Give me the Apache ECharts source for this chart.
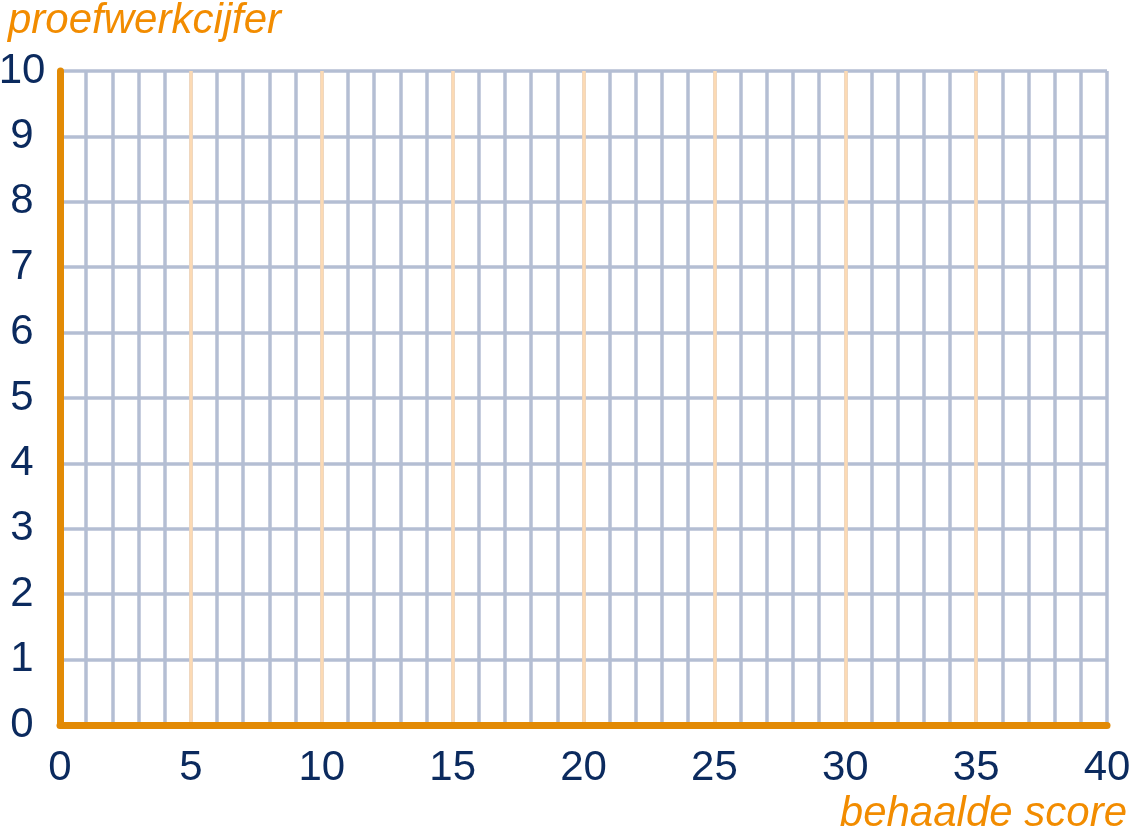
<!DOCTYPE html>
<html>
<head>
<meta charset="utf-8">
<script src="https://cdn.jsdelivr.net/npm/echarts@6/dist/echarts.min.js"></script>
<style>
html,body{margin:0;padding:0;background:#fff;}
#chart{width:1129px;height:835px;}
</style>
</head>
<body>
<div id="chart"></div>
<script>
// Axis ranges and ticks
const xMin = 0, xMax = 40, xMinorStep = 1, xMajorStep = 5;
const yMin = 0, yMax = 10, yStep = 1;
const xTickLabels = [0, 5, 10, 15, 20, 25, 30, 35, 40];
const yTickLabels = [0, 1, 2, 3, 4, 5, 6, 7, 8, 9, 10];
const xAxisName = 'behaalde score';
const yAxisName = 'proefwerkcijfer';
const seriesPoints = []; // empty grid: no plotted data

const ORANGE = '#E28A05';
const NAME_ORANGE = '#F28C00';
const GRID_GRAY = '#B4BED3';
const PEACH = '#FCDAB4';
const NAVY = '#0B2A5E';
const FONT = 'Liberation Sans, Arial, sans-serif';

const chart = echarts.init(document.getElementById('chart'));
chart.setOption({
  animation: false,
  backgroundColor: '#ffffff',
  grid: { left: 60, right: 22, top: 71, bottom: 110, containLabel: false, outerBoundsMode: 'none' },
  xAxis: [
    {
      type: 'value', min: xMin, max: xMax, interval: xMinorStep, z: 2,
      axisLine: { show: false }, axisTick: { show: false }, axisLabel: { show: false },
      splitLine: { show: true, lineStyle: { color: GRID_GRAY, width: 3.5 } }
    },
    {
      type: 'value', min: xMin, max: xMax, interval: xMajorStep, z: 3, position: 'bottom',
      axisLine: { show: true, onZero: false, lineStyle: { color: ORANGE, width: 7, cap: 'round' } },
      axisTick: { show: false },
      axisLabel: {
        show: true, margin: 22, color: NAVY, fontSize: 42, fontFamily: FONT,
        formatter: v => (xTickLabels.indexOf(v) >= 0 ? String(v) : '')
      },
      splitLine: { show: true, showMinLine: false, showMaxLine: false, lineStyle: { color: PEACH, width: 3.5 } }
    }
  ],
  yAxis: [
    {
      type: 'value', min: yMin, max: yMax, interval: yStep, z: 1,
      axisLine: { show: false }, axisTick: { show: false },
      axisLabel: {
        show: true, margin: 38, align: 'center', color: NAVY, fontSize: 42, fontFamily: FONT,
        formatter: v => (yTickLabels.indexOf(v) >= 0 ? String(v) : '')
      },
      splitLine: { show: true, lineStyle: { color: GRID_GRAY, width: 3.5 } }
    },
    {
      type: 'value', min: yMin, max: yMax, interval: yStep, z: 4, position: 'left',
      axisLine: { show: true, onZero: false, lineStyle: { color: ORANGE, width: 7, cap: 'round' } },
      axisTick: { show: false }, axisLabel: { show: false }, splitLine: { show: false }
    }
  ],
  graphic: [
    {
      type: 'text', left: 8, top: 0, z: 10,
      style: { text: yAxisName, fill: NAME_ORANGE, fontSize: 42, fontStyle: 'italic', fontFamily: FONT }
    },
    {
      type: 'text', right: 2, bottom: 0, z: 10,
      style: { text: xAxisName, fill: NAME_ORANGE, fontSize: 42, fontStyle: 'italic', fontFamily: FONT }
    }
  ],
  series: [
    { type: 'scatter', xAxisIndex: 0, yAxisIndex: 0, data: seriesPoints, silent: true }
  ]
});
</script>
</body>
</html>
